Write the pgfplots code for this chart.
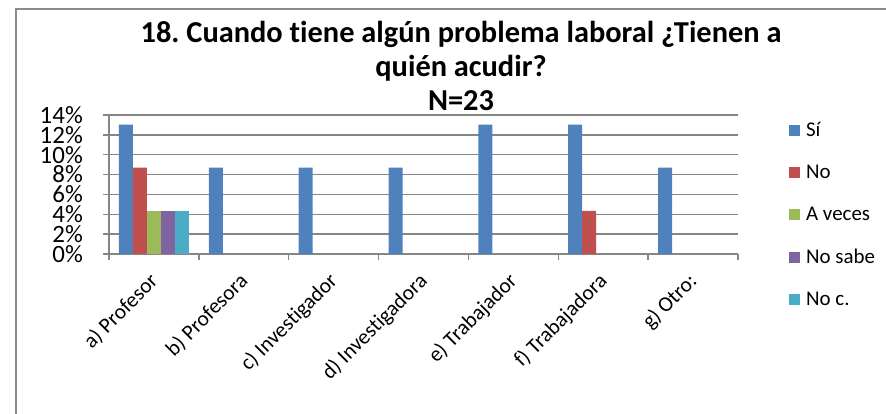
\documentclass[border=0pt]{standalone}
\usepackage{pgfplots}
\pgfplotsset{compat=1.18}
\usepackage{fontspec}
\setmainfont{Carlito}[Ligatures={NoCommon}]
\frenchspacing
\definecolor{cSi}{HTML}{4F81BD}
\definecolor{cNo}{HTML}{C0504D}
\definecolor{cAv}{HTML}{9BBB59}
\definecolor{cNs}{HTML}{8064A2}
\definecolor{cNc}{HTML}{4BACC6}
\definecolor{gridc}{HTML}{868686}
\definecolor{framec}{HTML}{8C8C8C}
\begin{document}
\begin{tikzpicture}
\useasboundingbox (0,0) rectangle (886bp,414bp);
\draw[framec, line width=2bp] (16bp,0) -- (16bp,405bp) -- (886bp,405bp);
\node[align=center, font=\bfseries\fontsize{30.5}{34.5}\selectfont] at (461bp,348bp)
  {18. Cuando tiene algún problema laboral ¿Tienen a\\quién acudir?\\N=23};
\begin{axis}[
  at={(109bp,160bp)}, anchor=south west,
  scale only axis, width=629bp, height=139bp,
  ybar=0pt, bar width=14bp,
  xmin=-0.5, xmax=6.5, ymin=0, ymax=14,
  axis lines*=left,
  axis line style={gridc, line width=1.5bp},
  ytick={0,2,...,14},
  yticklabels={0\%,2\%,4\%,6\%,8\%,10\%,12\%,14\%},
  xtick={0,...,6},
  xticklabels={a) Profesor,b) Profesora,c) Investigador,d) Investigadora,e) Trabajador,f) Trabajadora,g) Otro:},
  minor xtick={-0.5,0.5,...,6.5},
  major x tick style={draw=none},
  tick align=outside,
  major tick length=6bp, minor tick length=6bp,
  tick style={gridc, line width=1.5bp},
  ymajorgrids, grid style={gridc, line width=1.5bp},
  yticklabel style={font=\fontsize{25}{25}\selectfont, inner sep=0pt, xshift=-20bp},
  xticklabel style={font=\fontsize{21.5}{21.5}\selectfont, rotate=45, anchor=east, inner sep=0pt, xshift=-12bp, yshift=-13bp},
  legend style={at={(1.081,0.955)}, anchor=north west, draw=none, fill=none,
    font=\fontsize{21}{21}\selectfont, row sep=25.1bp, inner sep=0pt,
    nodes={inner sep=1bp}},
  legend cell align=left,
  legend image code/.code={\fill[#1] (0bp,-5.5bp) rectangle (11bp,5.5bp);},
  clip=false,
]
\addplot[fill=cSi, draw=none] coordinates {(0,13.04) (1,8.70) (2,8.70) (3,8.70) (4,13.04) (5,13.04) (6,8.70)};
\addplot[fill=cNo, draw=none] coordinates {(0,8.70) (5,4.35)};
\addplot[fill=cAv, draw=none] coordinates {(0,4.35)};
\addplot[fill=cNs, draw=none] coordinates {(0,4.35)};
\addplot[fill=cNc, draw=none] coordinates {(0,4.35)};
\legend{\hspace{5bp}Sí,\hspace{5bp}No,\hspace{5bp}A veces,\hspace{5bp}No sabe,\hspace{5bp}No c.}
\end{axis}
\end{tikzpicture}
\end{document}
